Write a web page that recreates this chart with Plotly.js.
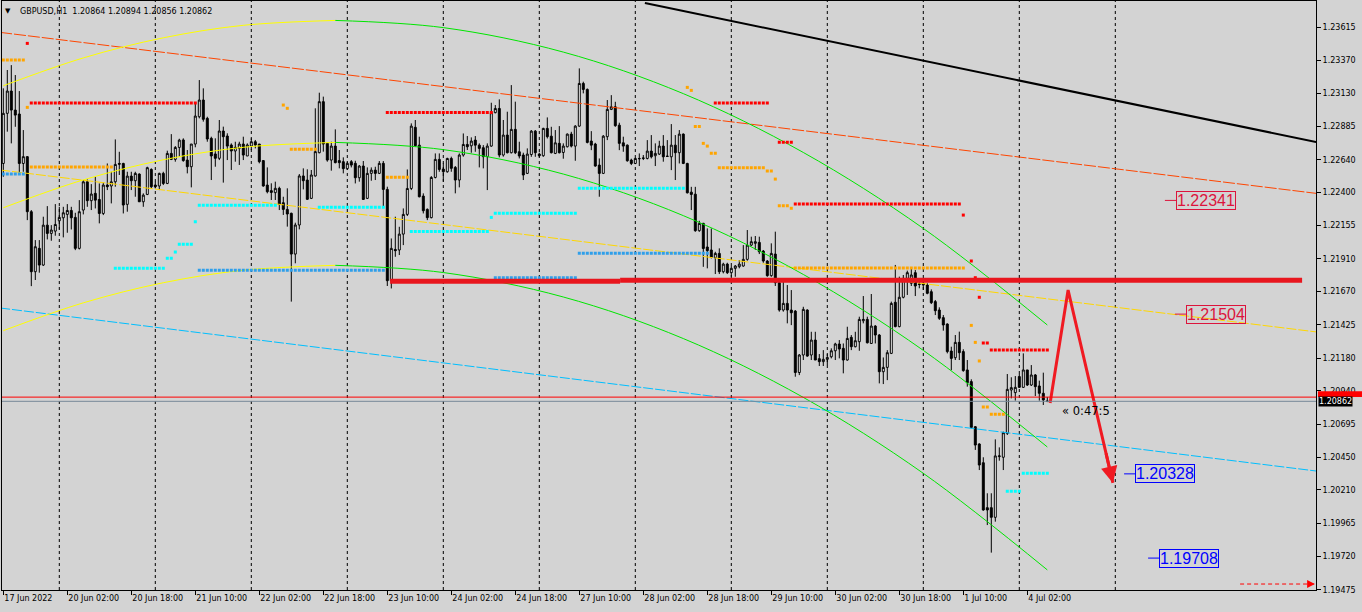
<!DOCTYPE html>
<html>
<head>
<meta charset="utf-8">
<script src="https://cdn.plot.ly/plotly-3.0.1.min.js"></script>
<style>html,body{margin:0;padding:0;background:#D3D3D3;}#chart{width:1362px;height:612px;}</style>
</head>
<body>
<div id="chart"></div>
<script>
// ---------- DATA (GBPUSD H1, one value per bar, bar 0 = 17 Jun 10:00) ----------
const open = [
1.22613,1.22982,1.23146,1.23006,1.22977,1.22613,1.22663,1.22258,1.21816,1.21988,
1.21865,1.22159,1.22098,1.22115,1.22191,1.22213,1.22238,1.22267,1.22216,1.21988,
1.22270,1.22478,1.22339,1.22393,1.22348,1.22245,1.22454,1.22447,1.22478,1.22613,
1.22613,1.22312,1.22520,1.22486,1.22535,1.22331,1.22385,1.22569,1.22454,1.22447,
1.22540,1.22466,1.22687,1.22643,1.22731,1.22786,1.22638,1.22589,1.22756,1.22957,
1.23080,1.22945,1.22798,1.22683,1.22651,1.22852,1.22815,1.22749,1.22705,1.22724,
1.22756,1.22668,1.22741,1.22773,1.22756,1.22634,1.22454,1.22413,1.22398,1.22430,
1.22324,1.22275,1.22246,1.21946,1.22160,1.22521,1.22491,1.22356,1.22521,1.22692,
1.23068,1.22761,1.22638,1.22741,1.22634,1.22626,1.22575,1.22626,1.22614,1.22508,
1.22594,1.22356,1.22540,1.22564,1.22540,1.22614,1.22422,1.21750,1.21980,1.21976,
1.22093,1.22238,1.22429,1.22879,1.22748,1.22373,1.22275,1.22214,1.22510,1.22643,
1.22572,1.22552,1.22650,1.22584,1.22491,1.22675,1.22753,1.22743,1.22785,1.22748,
1.22729,1.22663,1.22741,1.22987,1.23018,1.22675,1.22822,1.22692,1.22864,1.22699,
1.22675,1.22540,1.22679,1.22851,1.22682,1.22670,1.22871,1.22814,1.22687,1.22761,
1.22694,1.22736,1.22829,1.22741,1.22888,1.23202,1.23158,1.22778,1.22756,1.22601,
1.22540,1.22810,1.23011,1.23030,1.22895,1.22765,1.22748,1.22638,1.22613,1.22650,
1.22650,1.22650,1.22704,1.22670,1.22682,1.22741,1.22667,1.22662,1.22748,1.22692,
1.22829,1.22613,1.22402,1.22387,1.22118,1.22172,1.21998,1.21976,1.21919,1.21951,
1.21816,1.21872,1.21809,1.21841,1.21853,1.21858,1.21907,1.22012,1.22025,1.22032,
1.21968,1.21895,1.21787,1.21946,1.21735,1.21534,1.21583,1.21534,1.21526,1.21074,
1.21203,1.21534,1.21203,1.21313,1.21176,1.21154,1.21171,1.21190,1.21234,1.21284,
1.21252,1.21166,1.21333,1.21264,1.21301,1.21455,1.21465,1.21288,1.21416,1.21350,
1.21080,1.21112,1.21215,1.21591,1.21412,1.21628,1.21767,1.21731,1.21809,1.21726,
1.21731,1.21718,1.21669,1.21596,1.21534,1.21478,1.21431,1.21232,1.21183,1.21296,
1.21228,1.21093,1.21007,1.20675,1.20548,1.20410,1.20079,1.20079,1.20008,1.20455,
1.20450,1.20626,1.20945,1.20926,1.21044,1.20965,1.21093,1.20982,1.21056,1.20975,
1.20921,1.20864];
const high = [
1.23166,1.23301,1.23337,1.23264,1.23146,1.22859,1.22667,1.22270,1.22049,1.22049,
1.22221,1.22299,1.22159,1.22314,1.22294,1.22294,1.22314,1.22294,1.22250,1.22343,
1.22491,1.22496,1.22461,1.22515,1.22466,1.22471,1.22613,1.22552,1.22790,1.22699,
1.22618,1.22552,1.22552,1.22552,1.22540,1.22393,1.22589,1.22577,1.22478,1.22545,
1.22552,1.22707,1.22829,1.22741,1.22795,1.22798,1.22712,1.22756,1.23065,1.23227,
1.23166,1.22957,1.22810,1.22798,1.22933,1.22884,1.22835,1.22761,1.22773,1.22773,
1.22810,1.22761,1.22798,1.22786,1.22756,1.22638,1.22584,1.22467,1.22479,1.22442,
1.22368,1.22430,1.22251,1.22177,1.22535,1.22577,1.22570,1.22565,1.23019,1.23134,
1.23105,1.22766,1.22773,1.22864,1.22712,1.22658,1.22626,1.22638,1.22633,1.22601,
1.22631,1.22584,1.22584,1.22589,1.22631,1.22631,1.22442,1.22061,1.22221,1.22147,
1.22282,1.22569,1.22908,1.22933,1.22810,1.22393,1.22282,1.22520,1.22687,1.22687,
1.22614,1.22655,1.22663,1.22594,1.22687,1.22834,1.22815,1.22805,1.22815,1.22761,
1.22748,1.22761,1.23060,1.23043,1.23085,1.22933,1.22994,1.23190,1.23068,1.22773,
1.22692,1.22724,1.22859,1.22859,1.22692,1.22876,1.22952,1.22883,1.22859,1.22888,
1.22761,1.22834,1.22846,1.22895,1.23313,1.23215,1.23165,1.22851,1.22765,1.22650,
1.22822,1.23080,1.23116,1.23067,1.22913,1.22810,1.22753,1.22648,1.22655,1.22687,
1.22675,1.22785,1.22822,1.22761,1.22780,1.22822,1.22785,1.22903,1.22822,1.22859,
1.22834,1.22618,1.22441,1.22441,1.22191,1.22176,1.22135,1.22135,1.21963,1.21988,
1.21882,1.21882,1.21858,1.21865,1.21902,1.22012,1.22123,1.22074,1.22079,1.22074,
1.21976,1.21902,1.22025,1.22111,1.21750,1.21767,1.21718,1.21681,1.21534,1.21210,
1.21558,1.21539,1.21374,1.21374,1.21210,1.21239,1.21210,1.21252,1.21293,1.21313,
1.21288,1.21411,1.21350,1.21374,1.21485,1.21637,1.21485,1.21652,1.21423,1.21357,
1.21185,1.21239,1.21596,1.21866,1.21780,1.21792,1.21824,1.21841,1.21829,1.21750,
1.21755,1.21731,1.21686,1.21608,1.21554,1.21497,1.21436,1.21264,1.21350,1.21375,
1.21245,1.21166,1.21024,1.20680,1.20553,1.20450,1.20185,1.20185,1.20582,1.20523,
1.20639,1.21063,1.21039,1.21048,1.21063,1.21215,1.21093,1.21129,1.21063,1.21014,
1.21073,1.20894];
const low = [
1.22515,1.22847,1.22761,1.22883,1.22540,1.22552,1.22196,1.21710,1.21755,1.21809,
1.21858,1.22054,1.22044,1.22081,1.22127,1.22069,1.22103,1.22127,1.21975,1.21980,
1.22238,1.22294,1.22270,1.22282,1.22172,1.22233,1.22417,1.22319,1.22442,1.22528,
1.22245,1.22258,1.22417,1.22368,1.22331,1.22294,1.22380,1.22429,1.22429,1.22417,
1.22454,1.22461,1.22638,1.22626,1.22663,1.22626,1.22540,1.22437,1.22732,1.22945,
1.22921,1.22773,1.22491,1.22589,1.22638,1.22472,1.22638,1.22565,1.22626,1.22602,
1.22638,1.22668,1.22712,1.22724,1.22614,1.22442,1.22393,1.22344,1.22344,1.22270,
1.22234,1.22148,1.21596,1.21878,1.22128,1.22422,1.22344,1.22351,1.22516,1.22688,
1.22700,1.22626,1.22560,1.22614,1.22577,1.22540,1.22565,1.22584,1.22466,1.22479,
1.22344,1.22351,1.22486,1.22491,1.22535,1.22294,1.21711,1.21693,1.21926,1.21939,
1.22012,1.22226,1.22417,1.22736,1.22363,1.22245,1.22196,1.22209,1.22503,1.22552,
1.22479,1.22545,1.22552,1.22393,1.22437,1.22663,1.22712,1.22692,1.22699,1.22584,
1.22577,1.22417,1.22736,1.22982,1.22658,1.22663,1.22687,1.22687,1.22682,1.22650,
1.22491,1.22535,1.22662,1.22662,1.22657,1.22662,1.22797,1.22687,1.22682,1.22687,
1.22648,1.22731,1.22731,1.22633,1.22883,1.23129,1.22761,1.22711,1.22589,1.22368,
1.22535,1.22785,1.23006,1.22883,1.22711,1.22699,1.22626,1.22601,1.22608,1.22594,
1.22638,1.22643,1.22650,1.22594,1.22675,1.22626,1.22662,1.22564,1.22491,1.22613,
1.22608,1.22392,1.22270,1.22110,1.22110,1.21852,1.21841,1.21914,1.21799,1.21799,
1.21804,1.21799,1.21779,1.21779,1.21841,1.21853,1.21897,1.22005,1.21976,1.21946,
1.21882,1.21779,1.21779,1.21711,1.21522,1.21522,1.21436,1.21423,1.21043,1.21055,
1.21166,1.21190,1.21166,1.21166,1.21122,1.21122,1.21129,1.21178,1.21166,1.21178,
1.21068,1.21161,1.21239,1.21259,1.21234,1.21436,1.21288,1.21284,1.21288,1.20994,
1.20989,1.21018,1.21210,1.21407,1.21407,1.21620,1.21645,1.21711,1.21637,1.21694,
1.21682,1.21650,1.21578,1.21497,1.21461,1.21382,1.21215,1.21091,1.21166,1.21166,
1.21080,1.20970,1.20663,1.20504,1.20356,1.20057,1.19951,1.19748,1.19976,1.20425,
1.20356,1.20614,1.20884,1.20867,1.20960,1.20960,1.20975,1.20975,1.20901,1.20867,
1.20835,1.20856];
const close = [
1.22982,1.23146,1.23006,1.22969,1.22613,1.22663,1.22258,1.21816,1.22000,1.21865,
1.22159,1.22098,1.22123,1.22164,1.22216,1.22250,1.22267,1.22213,1.21988,1.22258,
1.22478,1.22339,1.22388,1.22343,1.22245,1.22454,1.22442,1.22478,1.22606,1.22608,
1.22307,1.22520,1.22486,1.22540,1.22331,1.22380,1.22582,1.22442,1.22442,1.22540,
1.22466,1.22687,1.22643,1.22731,1.22785,1.22634,1.22589,1.22756,1.22962,1.23080,
1.22938,1.22793,1.22668,1.22651,1.22852,1.22810,1.22741,1.22705,1.22732,1.22756,
1.22675,1.22749,1.22773,1.22749,1.22626,1.22447,1.22405,1.22400,1.22430,1.22312,
1.22275,1.22241,1.21946,1.22160,1.22521,1.22486,1.22349,1.22528,1.22700,1.23068,
1.22756,1.22638,1.22741,1.22619,1.22619,1.22575,1.22614,1.22601,1.22508,1.22594,
1.22348,1.22540,1.22564,1.22540,1.22614,1.22422,1.21750,1.21988,1.21971,1.22093,
1.22238,1.22429,1.22888,1.22744,1.22368,1.22265,1.22214,1.22510,1.22643,1.22569,
1.22552,1.22650,1.22577,1.22491,1.22675,1.22753,1.22736,1.22778,1.22748,1.22724,
1.22663,1.22741,1.22987,1.23018,1.22675,1.22822,1.22692,1.22864,1.22692,1.22668,
1.22528,1.22682,1.22851,1.22692,1.22670,1.22871,1.22810,1.22692,1.22765,1.22692,
1.22741,1.22829,1.22741,1.22888,1.23202,1.23158,1.22768,1.22748,1.22594,1.22540,
1.22814,1.23011,1.23030,1.22891,1.22761,1.22741,1.22633,1.22613,1.22650,1.22648,
1.22653,1.22704,1.22662,1.22687,1.22741,1.22662,1.22665,1.22748,1.22692,1.22829,
1.22613,1.22397,1.22385,1.22118,1.22172,1.21987,1.21971,1.21922,1.21951,1.21816,
1.21872,1.21809,1.21841,1.21858,1.21872,1.21907,1.22012,1.22037,1.22037,1.21963,
1.21895,1.21787,1.21951,1.21735,1.21534,1.21583,1.21534,1.21514,1.21074,1.21203,
1.21539,1.21195,1.21313,1.21166,1.21154,1.21171,1.21185,1.21234,1.21284,1.21247,
1.21166,1.21325,1.21264,1.21308,1.21465,1.21465,1.21293,1.21416,1.21350,1.21080,
1.21112,1.21220,1.21583,1.21412,1.21628,1.21767,1.21809,1.21792,1.21711,1.21723,
1.21718,1.21657,1.21588,1.21529,1.21473,1.21424,1.21228,1.21178,1.21296,1.21220,
1.21088,1.20999,1.20670,1.20540,1.20393,1.20062,1.20062,1.20008,1.20460,1.20460,
1.20631,1.20950,1.20963,1.20965,1.20965,1.21093,1.20982,1.21056,1.20970,1.20921,
1.20872,1.20862];

// x-axis labels (bar index -> text) and day separators (bar index of 00:00)
const tickBars  = [0,16,32,48,64,80,96,112,128,144,160,176,192,208,224,240,256];
const tickText  = ['17 Jun 2022','20 Jun 02:00','20 Jun 18:00','21 Jun 10:00','22 Jun 02:00','22 Jun 18:00',
                   '23 Jun 10:00','24 Jun 02:00','24 Jun 18:00','27 Jun 10:00','28 Jun 02:00','28 Jun 18:00',
                   '29 Jun 10:00','30 Jun 02:00','30 Jun 18:00','1 Jul 10:00','4 Jul 02:00'];
const dayStarts = [14,38,62,86,110,134,158,182,206,230,254,278];
const yTicks = [1.23615,1.23370,1.23130,1.22885,1.22640,1.22400,1.22155,1.21910,1.21670,
                1.21425,1.21180,1.20940,1.20695,1.20450,1.20210,1.19965,1.19720,1.19475];

// regression channel (bar index, price)
const bandBars   = [0,20,40,60,83,110,140,170,200,230,261];
const bandUpper  = [1.23185,1.23390,1.23538,1.23630,1.23666,1.23613,1.23433,1.23127,1.22694,1.22135,1.21424];
const bandMiddle = [1.22287,1.22492,1.22640,1.22732,1.22768,1.22715,1.22535,1.22229,1.21796,1.21237,1.20526];
const bandLower  = [1.21382,1.21587,1.21735,1.21827,1.21863,1.21810,1.21630,1.21324,1.20891,1.20332,1.19621];
const bandPeakBar = 83;

// trend lines [bar, price] end points
const blackTrend     = {x:[160.4,328.2], y:[1.23794,1.22771]};
const orangeRedTrend = {x:[-0.8,328.2],  y:[1.23578,1.22393]};
const goldTrend      = {x:[-0.8,328.2],  y:[1.22565,1.21373]};
const skyTrend       = {x:[-0.8,328.2],  y:[1.21549,1.20349]};
const levelSegs      = [[96.7,154.2,1.21746],[154.2,324.7,1.21754]];
const forecastArrow  = {x:[261.7,266.2,277.4], y:[1.20850,1.21681,1.20261]};
const dashArrow      = {x:[309.2,327.9], y:[1.19517,1.19517]};

// dotted indicator levels [firstBar, lastBar, price]
const redDots = [[6,6,1.23497],[7,48,1.23058],[96,122,1.22989],[178,191,1.23058],[194,197,1.22770],
  [198,239,1.22314],[240,240,1.22233],[242,242,1.21895],[243,243,1.21772],[244,244,1.21628],
  [245,246,1.21291],[247,261,1.21240]];
const orangeDots = [[0,5,1.23374],[6,6,1.23026],[7,27,1.22587],[70,70,1.23043],[71,71,1.23019],
  [72,78,1.22717],[96,101,1.22511],[171,171,1.23173],[172,172,1.23151],[173,174,1.22886],
  [175,175,1.22761],[176,176,1.22741],[177,178,1.22688],[179,190,1.22582],[191,192,1.22557],
  [193,193,1.22498],[194,196,1.22302],[197,197,1.22283],[198,240,1.21843],[242,242,1.21421],
  [243,243,1.21296],[244,244,1.21159],[245,246,1.20820],[247,250,1.20766]];
const cyanDots = [[28,40,1.21841],[41,42,1.21915],[43,43,1.21961],[44,47,1.22018],[48,48,1.22184],
  [49,68,1.22305],[79,95,1.22290],[102,121,1.22113],[122,122,1.22216],[123,143,1.22246],
  [144,170,1.22430],[251,254,1.20200],[255,261,1.20333]];
const blueDots = [[0,5,1.22535],[49,95,1.21826],[123,143,1.21771],[144,176,1.21952]];

// price labels [bar where leader starts, price, colour]
const labelBars   = [290.4,292.9,280.2,286.2];
const labelPrices = [1.22341,1.21504,1.20328,1.19708];
const labelColors = ['#DC143C','#DC143C','#0000FF','#0000FF'];

const askPrice = 1.20893, bidPrice = 1.20862;
const timerText = '\u00ab 0:47:5';
const timerPos = {x:264.2, y:1.20791};

// ---------- DRAW ----------
const FONT = 'DejaVu Sans';
const bars = open.map((_, k) => k);
const traces = [];

traces.push({type:'candlestick', x:bars, open:open, high:high, low:low, close:close,
  increasing:{line:{color:'#000000', width:1}, fillcolor:'#FFFFFF'},
  decreasing:{line:{color:'#000000', width:1}, fillcolor:'#000000'},
  whiskerwidth:0, hoverinfo:'skip'});

function line(x, y, color, width, dash, shape) {
  traces.push({type:'scatter', mode:'lines', x:x, y:y, hoverinfo:'skip',
    line:{color:color, width:width, dash:dash||'solid', shape:shape||'linear'}});
}
line(skyTrend.x, skyTrend.y, '#00BFFF', 1, '10px,2px');
line(goldTrend.x, goldTrend.y, '#FFD700', 1, '10px,2px');
line(orangeRedTrend.x, orangeRedTrend.y, '#FF4500', 1, '12px,2px');

// channel: rising part yellow, falling part lime
const k = bandBars.indexOf(bandPeakBar);
[bandUpper, bandMiddle, bandLower].forEach(b => {
  line(bandBars.slice(0, k+1), b.slice(0, k+1), '#FFFF00', 1, 'solid', 'spline');
  line(bandBars.slice(k), b.slice(k), '#00E600', 1, 'solid', 'spline');
});

line(blackTrend.x, blackTrend.y, '#000000', 2);

function dotted(segs, color) {
  const x = [], y = [];
  segs.forEach(s => { x.push(s[0]-0.375, s[1]+0.375, null); y.push(s[2], s[2], null); });
  traces.push({type:'scatter', mode:'lines', x:x, y:y, hoverinfo:'skip', connectgaps:false,
    line:{color:color, width:3, dash:'3px,1px'}});
}
dotted(blueDots, '#2F9FEA');
dotted(cyanDots, '#00FFFF');
dotted(orangeDots, '#FFA500');
dotted(redDots, '#FF0000');

levelSegs.forEach(s => line([s[0], s[1]], [s[2], s[2]], '#E8161E', 5));
line(forecastArrow.x, forecastArrow.y, '#F01A22', 3);
line(dashArrow.x, dashArrow.y, '#FF0000', 1, '4px,3px');

const n = open.length - 1;
const header = 'GBPUSD,H1\u00a0\u00a0' + [open[n], high[n], low[n], close[n]].map(v => v.toFixed(5)).join(' ');

const annotations = [
  {xref:'paper', yref:'paper', x:0.0008, y:0.983, xanchor:'left', yanchor:'middle', showarrow:false,
   text:'\u25BC', font:{family:FONT, size:7, color:'#000'}},
  {xref:'paper', yref:'paper', x:0.0122, y:0.983, xanchor:'left', yanchor:'middle', showarrow:false,
   text:header, font:{family:FONT, size:8, color:'#000'}},
  {x:timerPos.x, y:timerPos.y, xanchor:'left', yanchor:'middle', showarrow:false,
   text:timerText, font:{family:FONT, size:11.5, color:'#000'}},
  {x:forecastArrow.x[2], y:forecastArrow.y[2], ax:275.6, ay:1.20490, axref:'x', ayref:'y',
   showarrow:true, arrowhead:2, arrowsize:1.1, arrowwidth:3, arrowcolor:'#F01A22', text:''},
  {x:dashArrow.x[1], y:dashArrow.y[1], ax:325.9, ay:dashArrow.y[1], axref:'x', ayref:'y',
   showarrow:true, arrowhead:2, arrowsize:1.3, arrowwidth:1.2, arrowcolor:'#FF0000', text:''},
  {xref:'paper', yref:'y', x:1.0015, y:bidPrice, xanchor:'left', yanchor:'middle', showarrow:false,
   text:bidPrice.toFixed(5), bgcolor:'#000000', borderpad:0, font:{family:FONT, size:8, color:'#FFFFFF'}}
];
labelBars.forEach((b, j) => annotations.push({
  x:b, y:labelPrices[j], text:labelPrices[j].toFixed(5), showarrow:true, arrowhead:0, arrowwidth:1,
  arrowcolor:labelColors[j], ax:41, ay:0, bordercolor:labelColors[j], borderwidth:1, borderpad:0,
  font:{family:'Liberation Sans', size:16, color:labelColors[j]}
}));

const shapes = dayStarts.map(d => ({type:'line', xref:'x', yref:'paper', x0:d, x1:d, y0:0, y1:1,
  line:{color:'#000000', width:1, dash:'3px,3px'}, layer:'below'}));
shapes.push({type:'line', xref:'paper', yref:'y', x0:0, x1:1, y0:askPrice, y1:askPrice,
  line:{color:'#FF0000', width:1}});
shapes.push({type:'line', xref:'paper', yref:'y', x0:0, x1:1, y0:bidPrice, y1:bidPrice,
  line:{color:'#778899', width:1}});
// ask price marker on the price scale (partly hidden behind the bid box, as in the terminal)
shapes.push({type:'rect', xref:'paper', yref:'y', x0:1.0015, x1:1.035, y0:askPrice, y1:askPrice+0.00044,
  line:{width:0}, fillcolor:'#FF0000', layer:'above'});

const layout = {
  width:1362, height:612,
  margin:{l:2, r:46, t:1, b:22, pad:0},
  paper_bgcolor:'#D3D3D3', plot_bgcolor:'#D3D3D3',
  showlegend:false, hovermode:false,
  xaxis:{range:[-0.325, 328.175], showgrid:false, zeroline:false, showline:true, mirror:true,
    linecolor:'#000', linewidth:1, ticks:'outside', ticklen:4, tickcolor:'#000',
    tickvals:tickBars, ticktext:tickText, ticklabelposition:'outside right',
    tickfont:{family:FONT, size:8, color:'#000'}, rangeslider:{visible:false}, fixedrange:true},
  yaxis:{range:[1.19473, 1.23809], side:'right', showgrid:false, zeroline:false, showline:true, mirror:true,
    linecolor:'#000', linewidth:1, ticks:'outside', ticklen:4, tickcolor:'#000',
    tickvals:yTicks, ticktext:yTicks.map(v => v.toFixed(5)),
    tickfont:{family:FONT, size:8, color:'#000'}, fixedrange:true},
  shapes:shapes, annotations:annotations
};

Plotly.newPlot('chart', traces, layout, {staticPlot:true, displayModeBar:false});
</script>
</body>
</html>
